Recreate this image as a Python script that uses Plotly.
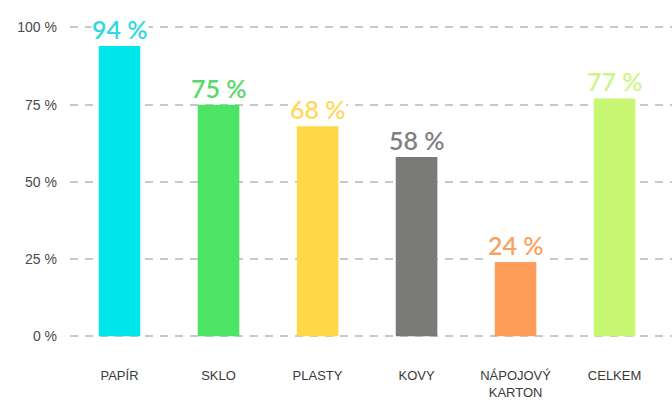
import plotly.graph_objects as go

categories = ["PAPÍR", "SKLO", "PLASTY", "KOVY", "NÁPOJOVÝ<br>KARTON", "CELKEM"]
values = [94, 75, 68, 58, 24, 77]
bar_colors = ["#00e4ec", "#4de466", "#ffd84a", "#7a7a78", "#ff9e5b", "#c8f774"]
label_colors = ["#2fd8e2", "#58d86a", "#ffd95e", "#808080", "#f9a262", "#cdf58a"]
y_ticks = [0, 25, 50, 75, 100]
y_ticktext = [f"{t} %" for t in y_ticks]

fig = go.Figure()
fig.add_trace(go.Bar(
    x=categories, y=values,
    marker=dict(color=bar_colors, line=dict(width=0)),
    width=0.42,
    hoverinfo="skip",
))

for c, v, col in zip(categories, values, label_colors):
    fig.add_annotation(
        x=c, y=v, text=f"{v} %", showarrow=False,
        yanchor="bottom", yshift=1, bgcolor="white", borderpad=0,
        font=dict(family="Lato, sans-serif", size=25, color=col, weight=600),
    )

fig.update_layout(
    width=672, height=401,
    margin=dict(l=70, r=0, t=25, b=63),
    paper_bgcolor="white", plot_bgcolor="white",
    showlegend=False,
    xaxis=dict(
        type="category", range=[-0.5, 5.58],
        showgrid=False, zeroline=False, showline=False,
        ticks="", ticklabelstandoff=28,
        tickfont=dict(family="Liberation Sans, Arial, sans-serif", size=13, color="#3a3a3a"),
    ),
    yaxis=dict(
        range=[-0.6, 100.8], tickvals=y_ticks, ticktext=y_ticktext,
        showgrid=True, gridcolor="#c8c8c8", gridwidth=1.5, griddash="8px,7px",
        zeroline=False, showline=False, ticks="", ticklabelstandoff=12,
        tickfont=dict(family="Liberation Sans, Arial, sans-serif", size=14, color="#4a4a4a"),
    ),
)

fig.write_html("out.html")
